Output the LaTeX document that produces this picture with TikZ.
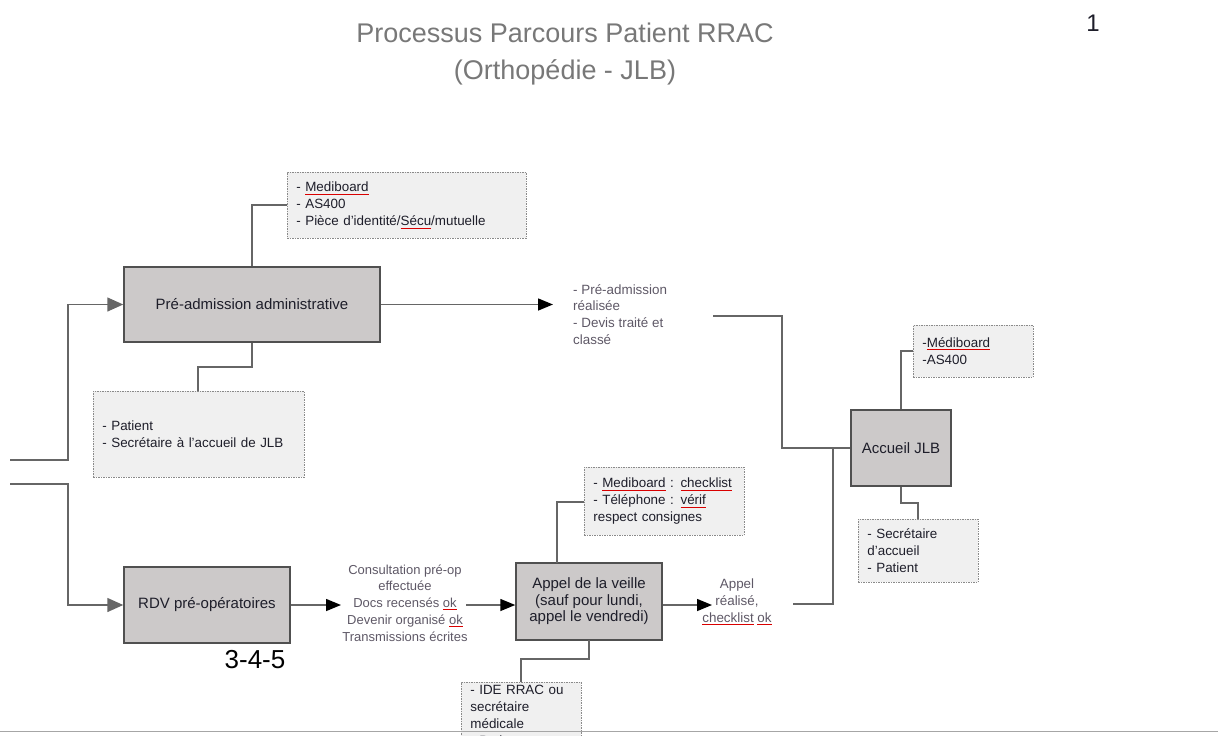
\documentclass[tikz,border=0pt]{standalone}
\usepackage{fontspec}
\setmainfont{Liberation Sans}
\usetikzlibrary{arrows.meta,calc}
\definecolor{boxfill}{HTML}{CCC9C9}
\definecolor{boxline}{HTML}{505050}
\definecolor{resfill}{HTML}{F0F0F0}
\definecolor{resline}{HTML}{8A8A8A}
\definecolor{connc}{HTML}{666666}
\definecolor{labc}{HTML}{5E5866}
\definecolor{titlec}{HTML}{787878}
\definecolor{txtc}{HTML}{1E1E2A}
\newcommand{\spellul}[1]{\setbox0\hbox{#1}\rlap{\color{red!85!black}\rule[-2.6pt]{\wd0}{0.9pt}}\box0\relax}
\tikzset{
  procbox/.style={draw=boxline, line width=1.5pt, fill=boxfill, align=center, text=txtc,
    font=\fontsize{15}{16.5}\selectfont, inner sep=0pt},
  resbox/.style={draw=resline, line width=0.8pt, dash pattern=on 1.5pt off 1pt, fill=resfill,
    align=left, text=txtc, font=\fontsize{13.4}{17}\selectfont, inner xsep=9pt, inner ysep=0pt},
  lab/.style={text=labc, font=\fontsize{13.4}{16.8}\selectfont, inner sep=0pt},
  conn/.style={draw=connc, line width=1.5pt},
  arrg/.style={conn, -{Triangle[length=16pt,width=14pt,fill=connc]}},
  arrb/.style={conn, -{Triangle[length=15pt,width=12pt,fill=black,color=black]}},
}
\begin{document}
\begin{tikzpicture}[x=1pt,y=-1pt]
\useasboundingbox (0,0) rectangle (1218,736);
% title
\node[text=titlec, align=center, font=\fontsize{27}{37}\selectfont] (title) at (565,54) {Processus Parcours Patient RRAC\\(Orthopédie - JLB)};
\node[text=txtc, font=\fontsize{24}{28}\selectfont] (pnum) at (1093,23) {1};

% main boxes
\node[procbox, minimum width=256, minimum height=75] (pa) at (252,304.5) {Pré-admission administrative};
\node[procbox, minimum width=166, minimum height=76] (rdv) at (207,605) {RDV pré-opératoires};
\node[procbox, minimum width=146, minimum height=77] (ap) at (589,601.5) {Appel de la veille\\(sauf pour lundi,\\appel le vendredi)};
\node[procbox, minimum width=100, minimum height=76] (acc) at (901,448) {Accueil JLB};

% resource boxes
\node[resbox, text width=221, minimum height=66, anchor=north west] (r1) at (287,172)
  {- \spellul{Mediboard}\\- AS400\\- Pièce d'identité/\spellul{Sécu}/mutuelle};
\node[resbox, text width=193, minimum height=86, anchor=north west] (r2) at (93,391)
  {- Patient\\- Secrétaire à l'accueil de JLB};
\node[resbox, text width=102, minimum height=52, anchor=north west] (r3) at (913,325)
  {-\spellul{Médiboard}\\-AS400};
\node[resbox, text width=102, minimum height=63, anchor=north west] (r4) at (858,519)
  {- Secrétaire\\d'accueil\\- Patient};
\node[resbox, text width=142, minimum height=68, anchor=north west] (r5) at (584,467)
  {- \spellul{Mediboard} : \spellul{checklist}\\- Téléphone : \spellul{vérif}\\respect consignes};
\node[resbox, text width=102, inner ysep=3pt, anchor=north west] (r6) at (461,682)
  {- IDE RRAC ou\\secrétaire\\médicale\\- Patient};

% labels
\node[lab, align=left, anchor=north west] (l1) at (573,284)
  {- Pré-admission\\réalisée\\- Devis traité et\\classé};
\node[lab, align=center, font=\fontsize{13}{16.8}\selectfont] (l2) at (405,603)
  {Consultation pré-op\\effectuée\\Docs recensés \spellul{ok}\\Devenir organisé \spellul{ok}\\Transmissions écrites};
\node[lab, align=center] (l3) at (737,602)
  {Appel\\réalisé,\\\spellul{checklist} \spellul{ok}};
\node[text=black, font=\fontsize{26}{30}\selectfont] (n345) at (255,660) {3-4-5};

% free ends
\coordinate (in1) at (10,460);
\coordinate (in2) at (10,484);
\coordinate (o1) at (713,316);
\coordinate (o2) at (793,604);

% resource connectors
\draw[conn] (pa.north) -- (252,205) -- (r1.west |- 0,205);
\draw[conn] (pa.south) -- (252,367) -- (198,367) -- (198,391);
\draw[conn] (acc.north) -- (901,351) -- (r3.west |- 0,351);
\draw[conn] (acc.south) -- (901,503) -- (918,503) -- (918,519);
\draw[conn] (557,563) -- (557,502) -- (r5.west |- 0,502);
\draw[conn] (589,640) -- (589,659) -- (521,659) -- (521,682);

% flow
\draw[arrg] (in1) -- (68,460) |- (pa.west);
\draw[arrg] (in2) -- (68,484) |- (rdv.west);
\draw[arrb] (pa.east) -- (553,304.5);
\draw[conn] (o1) -- (782,316) |- (acc.west);
\draw[arrb] (rdv.east) -- (341,605);
\draw[arrb] (466,605) -- (ap.west |- 0,605);
\draw[arrb] (ap.east |- 0,605) -- (712,605);
\draw[conn] (o2) -- (833,604) -- (833,448);

% page edge
\draw[draw=gray!70, line width=1pt] (0,731) -- (1218,731);
\end{tikzpicture}
\end{document}
